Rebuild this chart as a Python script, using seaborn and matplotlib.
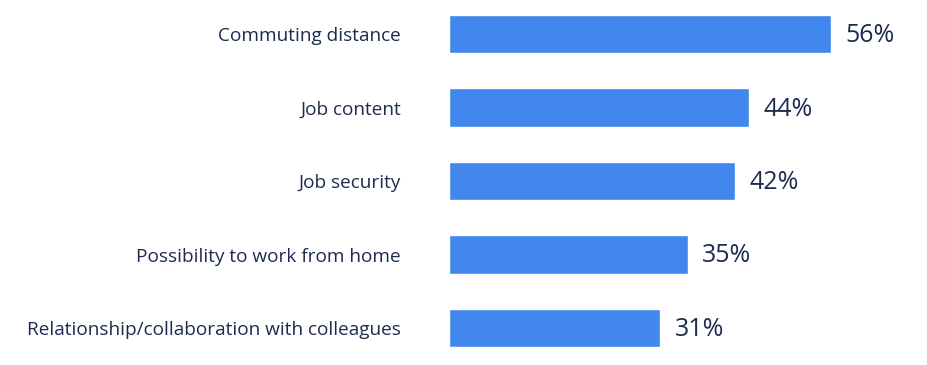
import matplotlib
matplotlib.use("Agg")
import matplotlib.pyplot as plt
import seaborn as sns
import pandas as pd

# data
reasons = ["Commuting distance", "Job content", "Job security",
           "Possibility to work from home",
           "Relationship/collaboration with colleagues"]
shares = [56, 44, 42, 35, 31]

bar_color = "#4287ee"
text_color = "#1e2b4f"

df = pd.DataFrame({"reason": reasons, "share": shares})

sns.set_style("white")
plt.rcParams["font.family"] = ["Open Sans", "DejaVu Sans"]

fig = plt.figure(figsize=(9.27, 3.65), dpi=100)
ax = fig.add_axes([449 / 927, 0, 478 / 927, 1])

sns.barplot(data=df, x="share", y="reason", color=bar_color,
            width=0.52, saturation=1, ax=ax)

ax.set_xlim(0, 478 / 6.82)
ax.set_ylim(4.503, -0.463)
ax.set_xlabel("")
ax.set_ylabel("")
ax.set_xticks([])
ax.tick_params(axis="y", length=0, pad=34.5, labelsize=13.7, labelcolor=text_color)
sns.despine(ax=ax, left=True, bottom=True)

for i, v in enumerate(shares):
    ax.text(v + 2.1, i + 0.02, f"{v}%", va="center", ha="left",
            fontsize=18, color=text_color)

fig.savefig("out.png", dpi=100)
